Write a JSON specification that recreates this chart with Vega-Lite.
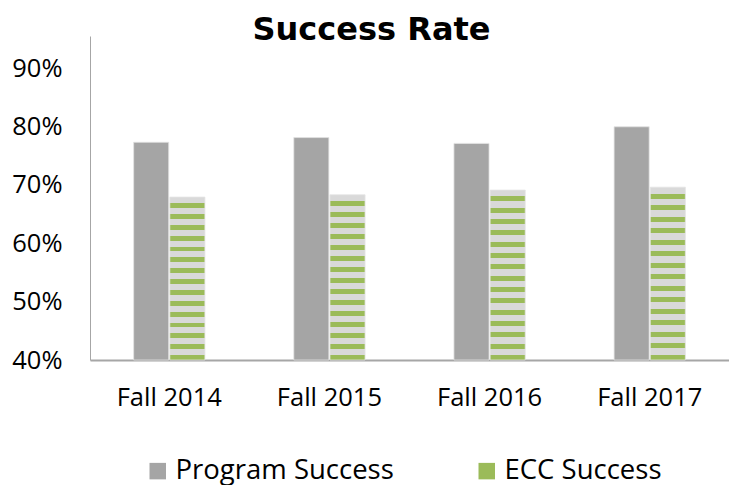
{
  "$schema": "https://vega.github.io/schema/vega-lite/v6.json",
  "autosize": {"type": "none"},
  "padding": {"left": 90, "top": 36, "right": 0, "bottom": 125},
  "width": 639,
  "height": 324,
  "background": "white",
  "title": {
    "text": "Success Rate",
    "font": "DejaVu Sans",
    "fontWeight": "bold",
    "fontSize": 32,
    "color": "#000000",
    "anchor": "middle",
    "baseline": "alphabetic",
    "offset": 0,
    "dx": -38,
    "dy": 36
  },
  "data": {
    "values": [
      {"term": "Fall 2014", "series": "Program Success", "rate": 0.773},
      {"term": "Fall 2014", "series": "ECC Success", "rate": 0.679},
      {"term": "Fall 2015", "series": "Program Success", "rate": 0.781},
      {"term": "Fall 2015", "series": "ECC Success", "rate": 0.683},
      {"term": "Fall 2016", "series": "Program Success", "rate": 0.771},
      {"term": "Fall 2016", "series": "ECC Success", "rate": 0.691},
      {"term": "Fall 2017", "series": "Program Success", "rate": 0.7995},
      {"term": "Fall 2017", "series": "ECC Success", "rate": 0.696}
    ]
  },
  "mark": {"type": "bar", "stroke": "#e3e3e3", "strokeWidth": 0.8},
  "encoding": {
    "x": {
      "field": "term",
      "type": "nominal",
      "sort": null,
      "scale": {"paddingInner": 0.555, "paddingOuter": 0.2725},
      "axis": {
        "title": null,
        "labelAngle": 0,
        "labelFont": "Open Sans",
        "labelFontSize": 25.5,
        "labelColor": "#000000",
        "ticks": false,
        "labelPadding": 25,
        "domainColor": "#a6a6a6",
        "domainWidth": 2,
        "grid": false
      }
    },
    "xOffset": {
      "field": "series",
      "type": "nominal",
      "sort": ["Program Success", "ECC Success"],
      "scale": {"paddingInner": 0.03}
    },
    "y": {
      "field": "rate",
      "type": "quantitative",
      "scale": {"domain": [0.4, 0.955], "nice": false, "zero": false},
      "axis": {
        "title": null,
        "format": ".0%",
        "values": [0.4, 0.5, 0.6, 0.7, 0.8, 0.9],
        "labelFont": "Open Sans",
        "labelFontSize": 25.5,
        "labelColor": "#000000",
        "ticks": false,
        "labelPadding": 28,
        "domainColor": "#a6a6a6",
        "domainWidth": 1,
        "grid": false
      }
    },
    "y2": {"datum": 0.4},
    "fill": {
      "condition": {
        "test": "datum.series === 'ECC Success'",
        "value": {
          "gradient": "linear",
          "x1": 0, "y1": 0, "x2": 0, "y2": 1,
          "stops": [
            {"offset": 0, "color": "#d9d9d9"}, {"offset": 0.0367, "color": "#d9d9d9"}, {"offset": 0.0367, "color": "#9bbb59"}, {"offset": 0.0667, "color": "#9bbb59"},
            {"offset": 0.0667, "color": "#d9d9d9"}, {"offset": 0.1033, "color": "#d9d9d9"}, {"offset": 0.1033, "color": "#9bbb59"}, {"offset": 0.1333, "color": "#9bbb59"},
            {"offset": 0.1333, "color": "#d9d9d9"}, {"offset": 0.17, "color": "#d9d9d9"}, {"offset": 0.17, "color": "#9bbb59"}, {"offset": 0.2, "color": "#9bbb59"},
            {"offset": 0.2, "color": "#d9d9d9"}, {"offset": 0.2367, "color": "#d9d9d9"}, {"offset": 0.2367, "color": "#9bbb59"}, {"offset": 0.2667, "color": "#9bbb59"},
            {"offset": 0.2667, "color": "#d9d9d9"}, {"offset": 0.3033, "color": "#d9d9d9"}, {"offset": 0.3033, "color": "#9bbb59"}, {"offset": 0.3333, "color": "#9bbb59"},
            {"offset": 0.3333, "color": "#d9d9d9"}, {"offset": 0.37, "color": "#d9d9d9"}, {"offset": 0.37, "color": "#9bbb59"}, {"offset": 0.4, "color": "#9bbb59"},
            {"offset": 0.4, "color": "#d9d9d9"}, {"offset": 0.4367, "color": "#d9d9d9"}, {"offset": 0.4367, "color": "#9bbb59"}, {"offset": 0.4667, "color": "#9bbb59"},
            {"offset": 0.4667, "color": "#d9d9d9"}, {"offset": 0.5033, "color": "#d9d9d9"}, {"offset": 0.5033, "color": "#9bbb59"}, {"offset": 0.5333, "color": "#9bbb59"},
            {"offset": 0.5333, "color": "#d9d9d9"}, {"offset": 0.57, "color": "#d9d9d9"}, {"offset": 0.57, "color": "#9bbb59"}, {"offset": 0.6, "color": "#9bbb59"},
            {"offset": 0.6, "color": "#d9d9d9"}, {"offset": 0.6367, "color": "#d9d9d9"}, {"offset": 0.6367, "color": "#9bbb59"}, {"offset": 0.6667, "color": "#9bbb59"},
            {"offset": 0.6667, "color": "#d9d9d9"}, {"offset": 0.7033, "color": "#d9d9d9"}, {"offset": 0.7033, "color": "#9bbb59"}, {"offset": 0.7333, "color": "#9bbb59"},
            {"offset": 0.7333, "color": "#d9d9d9"}, {"offset": 0.77, "color": "#d9d9d9"}, {"offset": 0.77, "color": "#9bbb59"}, {"offset": 0.8, "color": "#9bbb59"},
            {"offset": 0.8, "color": "#d9d9d9"}, {"offset": 0.8367, "color": "#d9d9d9"}, {"offset": 0.8367, "color": "#9bbb59"}, {"offset": 0.8667, "color": "#9bbb59"},
            {"offset": 0.8667, "color": "#d9d9d9"}, {"offset": 0.9033, "color": "#d9d9d9"}, {"offset": 0.9033, "color": "#9bbb59"}, {"offset": 0.9333, "color": "#9bbb59"},
            {"offset": 0.9333, "color": "#d9d9d9"}, {"offset": 0.97, "color": "#d9d9d9"}, {"offset": 0.97, "color": "#9bbb59"}, {"offset": 1, "color": "#9bbb59"}
          ]
        }
      },
      "field": "series",
      "type": "nominal",
      "scale": {"domain": ["Program Success", "ECC Success"], "range": ["#a5a5a5", "#9bbb59"]},
      "legend": {
        "title": null,
        "orient": "none",
        "direction": "horizontal",
        "legendX": 54,
        "legendY": 421,
        "symbolType": "square",
        "symbolSize": 272,
        "symbolStrokeWidth": 0,
        "labelFont": "Open Sans",
        "labelFontSize": 27.5,
        "labelColor": "#000000",
        "labelOffset": 4,
        "columnPadding": 79,
        "labelLimit": 400,
        "encode": {
          "symbols": {
            "enter": {
              "fill": [
                {
                  "test": "datum.label === 'ECC Success'",
                  "value": {
                    "gradient": "linear",
                    "x1": 0, "y1": 0, "x2": 0, "y2": 1,
                    "stops": [
                      {"offset": 0, "color": "#d9d9d9"}, {"offset": 0.33, "color": "#d9d9d9"},
                      {"offset": 0.33, "color": "#9bbb59"}, {"offset": 0.67, "color": "#9bbb59"},
                      {"offset": 0.67, "color": "#d9d9d9"}, {"offset": 1, "color": "#d9d9d9"}
                    ]
                  }
                },
                {"value": "#a5a5a5"}
              ]
            },
            "update": {
              "fill": [
                {
                  "test": "datum.label === 'ECC Success'",
                  "value": {
                    "gradient": "linear",
                    "x1": 0, "y1": 0, "x2": 0, "y2": 1,
                    "stops": [
                      {"offset": 0, "color": "#d9d9d9"}, {"offset": 0.33, "color": "#d9d9d9"},
                      {"offset": 0.33, "color": "#9bbb59"}, {"offset": 0.67, "color": "#9bbb59"},
                      {"offset": 0.67, "color": "#d9d9d9"}, {"offset": 1, "color": "#d9d9d9"}
                    ]
                  }
                },
                {"value": "#a5a5a5"}
              ]
            }
          }
        }
      }
    }
  },
  "config": {"view": {"stroke": null}}
}
